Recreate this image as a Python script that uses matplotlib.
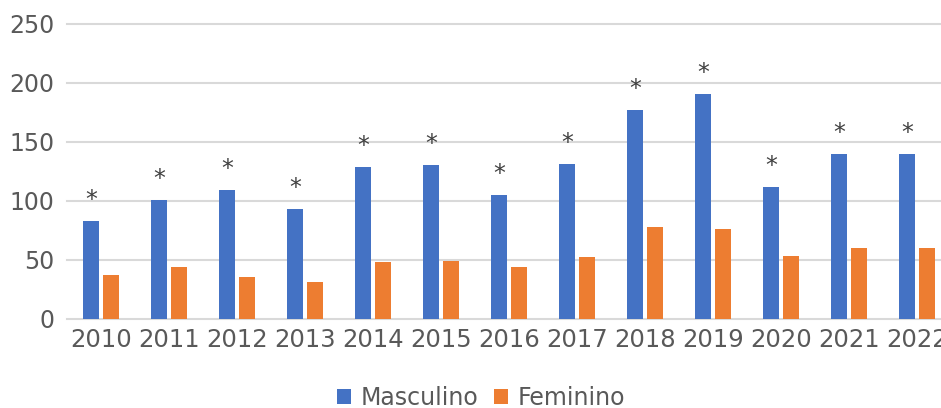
import matplotlib.pyplot as plt
import numpy as np

# chart data
years     = ["2010", "2011", "2012", "2013", "2014", "2015", "2016",
             "2017", "2018", "2019", "2020", "2021", "2022"]
masculino = [83, 101, 109, 93, 129, 130, 105, 131, 177, 191, 112, 140, 140]
feminino  = [37, 44, 35, 31, 48, 49, 44, 52, 78, 76, 53, 60, 60]
marks     = ["*"] * len(years)

BLUE   = "#4472C4"
ORANGE = "#ED7D31"
GREY   = "#595959"
GRID   = "#D9D9D9"

plt.rcParams["font.family"] = ["DejaVu Sans"]

fig = plt.figure(figsize=(9.41, 4.08), dpi=100)
# axes run past the right edge, like the cropped original
ax = fig.add_axes([67 / 941, 89.3 / 408, 884 / 941, 294.7 / 408])

x = np.arange(len(years))
w = 0.235
off = 0.14
ax.bar(x - off, masculino, width=w, color=BLUE, label="Masculino", zorder=3)
ax.bar(x + off, feminino, width=w, color=ORANGE, label="Feminino", zorder=3)

for xi, v, m in zip(x, masculino, marks):
    ax.annotate(m, (xi - off, v), xytext=(0, 6.5), textcoords="offset points",
                ha="center", va="bottom", fontsize=17, color="#404040")

ax.set_xlim(-0.5, len(years) - 0.5)
ax.set_ylim(0, 250)
ax.set_yticks(range(0, 251, 50))
ax.set_xticks(x)
ax.set_xticklabels(years, fontsize=17.5)
ax.tick_params(axis="both", length=0, colors=GREY)
ax.tick_params(axis="y", pad=9, labelsize=17)
ax.tick_params(axis="x", pad=7)

ax.grid(axis="y", color=GRID, linewidth=1.5, zorder=0)
for gl in ax.get_ygridlines():
    gl.set_clip_on(False)
for s in ax.spines.values():
    s.set_visible(False)

# legend centred at x ~ 481 px of the figure
leg = ax.legend(loc="upper center", bbox_to_anchor=(481 / 941, 38.5 / 408),
                bbox_transform=fig.transFigure, ncol=2, frameon=False,
                fontsize=17, labelcolor=GREY, handlelength=0.6,
                handleheight=0.6, handletextpad=0.38, columnspacing=0.68,
                borderpad=0.2)

fig.savefig("out.png", dpi=100, facecolor="white")
